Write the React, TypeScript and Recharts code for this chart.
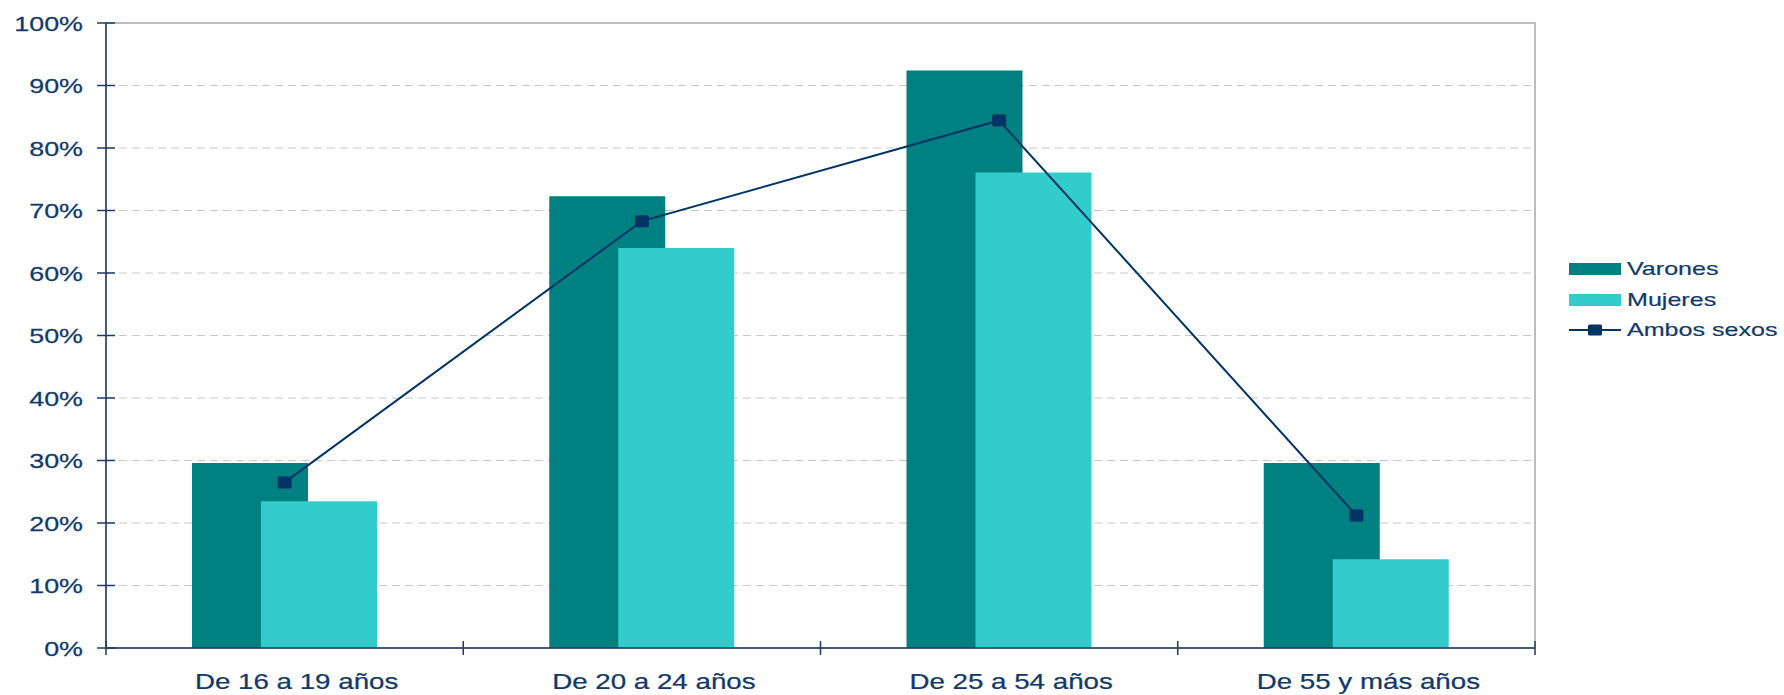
import {
  ComposedChart,
  Bar,
  Line,
  XAxis,
  YAxis,
  CartesianGrid,
  Legend,
  ReferenceArea,
} from "recharts";

const CATEGORIES = ["De 16 a 19 años", "De 20 a 24 años", "De 25 a 54 años", "De 55 y más años"];
const VARONES = [29.6, 72.3, 92.4, 29.6];
const MUJERES = [23.5, 64.0, 76.1, 14.2];
const AMBOS = [26.5, 68.3, 84.4, 21.2];
const Y_TICKS = [0, 10, 20, 30, 40, 50, 60, 70, 80, 90, 100];

const C_VARONES = "#008080";
const C_MUJERES = "#33cccc";
const C_AMBOS = "#003366";
const C_TEXT = "#113a6b";
const C_AXIS = "#1c3b6a";
const FONT = "'Liberation Sans', Arial, sans-serif";
const STRETCH = 1.28; // text in the reference is drawn wide

const data = CATEGORIES.map((c, i) => ({
  category: c,
  varones: VARONES[i],
  mujeres: MUJERES[i],
  ambos: AMBOS[i],
}));

function YTick(props: any) {
  const { x, y, payload } = props;
  return (
    <g>
      <line x1={x + 14} x2={x + 32} y1={y} y2={y} stroke={C_AXIS} strokeWidth={1.5} />
      <text
        transform={`translate(${x},${y}) scale(${STRETCH},1)`}
        textAnchor="end"
        dy="0.36em"
        fontFamily={FONT}
        fontSize={21}
        fill={C_TEXT}
        stroke={C_TEXT}
        strokeWidth={0.25}
      >
        {`${payload.value}%`}
      </text>
    </g>
  );
}

function XTick(props: any) {
  const { x, y, payload, index, width, visibleTicksCount } = props;
  const band = width && visibleTicksCount ? width / visibleTicksCount : 357.25;
  const left = x - band / 2;
  const right = x + band / 2;
  const isLast = index === (visibleTicksCount ?? 4) - 1;
  return (
    <g>
      <line x1={left} x2={left} y1={y - 14} y2={y} stroke={C_AXIS} strokeWidth={1.5} />
      {isLast && <line x1={right} x2={right} y1={y - 14} y2={y} stroke={C_AXIS} strokeWidth={1.5} />}
      <text
        transform={`translate(${x + 12},${y + 34}) scale(1.26,1)`}
        textAnchor="middle"
        fontFamily={FONT}
        fontSize={22}
        fill={C_TEXT}
        stroke={C_TEXT}
        strokeWidth={0.25}
      >
        {payload.value}
      </text>
    </g>
  );
}

function SquareDot(props: any) {
  const { cx, cy, index } = props;
  return <rect key={`dot-${index}`} x={cx - 7} y={cy - 6} width={14} height={12} rx={1.5} fill={C_AMBOS} />;
}

function ChartLegend() {
  const rows = [
    { label: "Varones", kind: "bar", color: C_VARONES },
    { label: "Mujeres", kind: "bar", color: C_MUJERES },
    { label: "Ambos sexos", kind: "line", color: C_AMBOS },
  ];
  return (
    <div style={{ fontFamily: FONT, fontSize: 19, color: C_TEXT, WebkitTextStroke: `0.2px ${C_TEXT}` }}>
      {rows.map((r) => (
        <div key={r.label} style={{ display: "flex", alignItems: "center", height: 30.5 }}>
          <svg width={52} height={14} style={{ display: "block" }}>
            {r.kind === "bar" ? (
              <rect x={0} y={1} width={52} height={12} fill={r.color} />
            ) : (
              <g>
                <line x1={0} x2={52} y1={7} y2={7} stroke={r.color} strokeWidth={2} />
                <rect x={19} y={1.5} width={14} height={11} rx={1.5} fill={r.color} />
              </g>
            )}
          </svg>
          <span
            style={{
              marginLeft: 6,
              display: "inline-block",
              whiteSpace: "nowrap",
              transform: "scaleX(1.32)",
              transformOrigin: "left center",
            }}
          >
            {r.label}
          </span>
        </div>
      ))}
    </div>
  );
}

export default function App() {
  return (
    <div style={{ position: "absolute", left: 0, top: 0, background: "#fff" }}>
      <ComposedChart
        width={1784}
        height={695}
        data={data}
        margin={{ top: 23, right: 249, bottom: 0, left: 0 }}
        barSize={116}
        barGap={-47}
      >
        <CartesianGrid vertical={false} stroke="#c8c8c8" strokeDasharray="8 5" />
        <ReferenceArea y1={0} y2={100} fill="none" stroke="#bdbdbd" strokeWidth={2} />
        <XAxis
          dataKey="category"
          height={47}
          interval={0}
          tickSize={7}
          tickMargin={0}
          tickLine={false}
          axisLine={{ stroke: C_AXIS, strokeWidth: 1.5 }}
          tick={<XTick />}
        />
        <YAxis
          width={106}
          domain={[0, 100]}
          ticks={Y_TICKS}
          interval={0}
          tickSize={9}
          tickMargin={14}
          tickLine={false}
          axisLine={{ stroke: C_AXIS, strokeWidth: 1.5 }}
          tick={<YTick />}
        />
        <Legend
          layout="vertical"
          align="center"
          verticalAlign="middle"
          wrapperStyle={{ left: 1569, top: 254, width: 215 }}
          content={() => <ChartLegend />}
        />
        <Bar dataKey="varones" name="Varones" fill={C_VARONES} isAnimationActive={false} />
        <Bar dataKey="mujeres" name="Mujeres" fill={C_MUJERES} isAnimationActive={false} />
        <Line
          dataKey="ambos"
          name="Ambos sexos"
          type="linear"
          stroke={C_AMBOS}
          strokeWidth={2}
          dot={SquareDot}
          activeDot={false}
          isAnimationActive={false}
        />
      </ComposedChart>
    </div>
  );
}
